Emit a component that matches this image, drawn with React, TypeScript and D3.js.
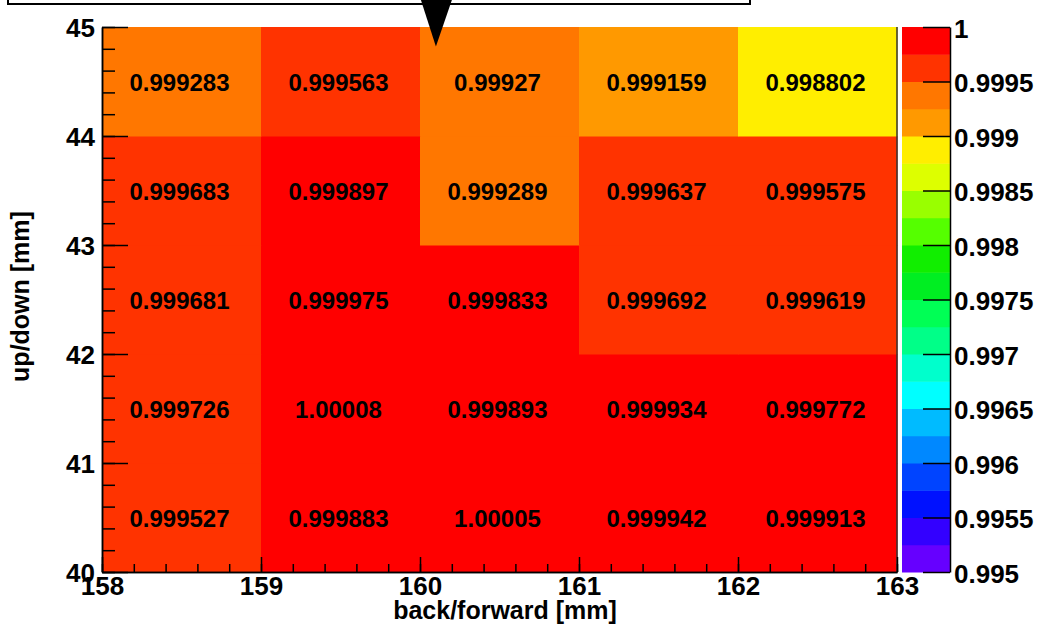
import { useRef, useEffect } from 'react';
import * as d3 from 'd3';

// bin edges
const xEdges = [158, 159, 160, 161, 162, 163];
const yEdges = [40, 41, 42, 43, 44, 45];

// cell contents, one array per up/down bin (left to right = back/forward bins)
const row40 = [0.999527, 0.999883, 1.00005, 0.999942, 0.999913];
const row41 = [0.999726, 1.00008, 0.999893, 0.999934, 0.999772];
const row42 = [0.999681, 0.999975, 0.999833, 0.999692, 0.999619];
const row43 = [0.999683, 0.999897, 0.999289, 0.999637, 0.999575];
const row44 = [0.999283, 0.999563, 0.99927, 0.999159, 0.998802];
const rows = [row40, row41, row42, row43, row44];

// colour palette, lowest level first
const palette = [
  '#6600ff', '#3300ff', '#0011ff', '#0044ff', '#0088ff',
  '#00bbff', '#00ffff', '#00ffcc', '#00ff88', '#00ff55',
  '#00ee22', '#11ee00', '#55ff00', '#99ff00', '#ddff00',
  '#ffee00', '#ff9900', '#ff7700', '#ff3300', '#ff0000',
];
const zRange = [0.995, 1];
const zTicks = [0.995, 0.9955, 0.996, 0.9965, 0.997, 0.9975, 0.998, 0.9985, 0.999, 0.9995, 1];

const xTitle = 'back/forward [mm]';
const yTitle = 'up/down [mm]';

// marker pointing into the plot (data coords of the tip)
const marker = { x: 160.1, y: 44.82 };

const FONT = '"Liberation Sans", Arial, Helvetica, sans-serif';

function App() {
  const svgRef = useRef(null);

  useEffect(() => {
    const svg = d3.select(svgRef.current);
    svg.selectAll('*').remove();

    const left = 102, right = 897, top = 27, bottom = 572;
    const barX0 = 902, barX1 = 950;

    const x = d3.scaleLinear().domain([158, 163]).range([left, right]);
    const y = d3.scaleLinear().domain([40, 45]).range([bottom, top]);
    const z = d3.scaleLinear().domain(zRange).range([bottom, top]);
    const color = d3.scaleQuantize().domain(zRange).range(palette);
    const fmt = d3.format('.6');
    const zfmt = d3.format('.6~g');

    // title box (mostly off the top of the picture)
    svg.append('rect')
      .attr('x', 8).attr('y', -40).attr('width', 742).attr('height', 44)
      .attr('fill', 'white').attr('stroke', 'black').attr('stroke-width', 2);

    // cells
    const cells = [];
    rows.forEach((row, j) => {
      row.forEach((v, i) => {
        cells.push({ x0: xEdges[i], x1: xEdges[i + 1], y0: yEdges[j], y1: yEdges[j + 1], v });
      });
    });

    const g = svg.append('g');
    g.selectAll('rect')
      .data(cells)
      .enter()
      .append('rect')
      .attr('x', (d) => x(d.x0))
      .attr('y', (d) => y(d.y1))
      .attr('width', (d) => x(d.x1) - x(d.x0) + 0.5)
      .attr('height', (d) => y(d.y0) - y(d.y1) + 0.5)
      .attr('fill', (d) => color(Math.min(d.v, zRange[1] - 1e-9)));

    g.selectAll('text')
      .data(cells)
      .enter()
      .append('text')
      .attr('x', (d) => (x(d.x0) + x(d.x1)) / 2 - 2)
      .attr('y', (d) => (y(d.y0) + y(d.y1)) / 2 + 9)
      .attr('text-anchor', 'middle')
      .style('font', `bold 24px ${FONT}`)
      .attr('fill', 'black')
      .text((d) => fmt(d.v));

    // frame
    svg.append('line')
      .attr('x1', right).attr('x2', right).attr('y1', top).attr('y2', bottom)
      .attr('stroke', '#333').attr('stroke-width', 1.5);

    // x axis: minor ticks, then major ticks with labels
    svg.append('g')
      .attr('transform', `translate(0, ${bottom})`)
      .call(d3.axisBottom(x).ticks(25).tickSizeInner(-8).tickSizeOuter(0).tickFormat(() => ''))
      .selectAll('line, path').attr('stroke', 'black').attr('stroke-width', 1.5);
    const xAxis = svg.append('g').attr('transform', `translate(0, ${bottom})`);
    xAxis.call(
      d3.axisBottom(x).tickValues(xEdges).tickSizeInner(-15).tickSizeOuter(0)
        .tickPadding(5).tickFormat(d3.format('d'))
    );
    xAxis.selectAll('text').style('font', `bold 26px ${FONT}`).attr('fill', 'black');
    xAxis.selectAll('line, path').attr('stroke', 'black').attr('stroke-width', 1.5);

    // y axis
    svg.append('g')
      .attr('transform', `translate(${left}, 0)`)
      .call(d3.axisLeft(y).ticks(25).tickSizeInner(-13).tickSizeOuter(0).tickFormat(() => ''))
      .selectAll('line, path').attr('stroke', 'black').attr('stroke-width', 1.5);
    const yAxis = svg.append('g').attr('transform', `translate(${left}, 0)`);
    yAxis.call(
      d3.axisLeft(y).tickValues(yEdges).tickSizeInner(-26).tickSizeOuter(0)
        .tickPadding(7).tickFormat(d3.format('d'))
    );
    yAxis.selectAll('text')
      .style('font', `bold 26px ${FONT}`).attr('fill', 'black')
      .attr('dy', '0.36em');
    yAxis.selectAll('line, path').attr('stroke', 'black').attr('stroke-width', 1.5);

    // axis titles
    svg.append('text')
      .attr('x', 505).attr('y', 619)
      .attr('text-anchor', 'middle')
      .style('font', `bold 25px ${FONT}`)
      .text(xTitle);
    svg.append('text')
      .attr('transform', `translate(29, ${(top + bottom) / 2 - 3}) rotate(-90)`)
      .attr('text-anchor', 'middle')
      .style('font', `bold 25px ${FONT}`)
      .text(yTitle);

    // colour bar
    const step = (zRange[1] - zRange[0]) / palette.length;
    const bar = svg.append('g');
    bar.selectAll('rect')
      .data(palette)
      .enter()
      .append('rect')
      .attr('x', barX0)
      .attr('y', (_, i) => z(zRange[0] + (i + 1) * step))
      .attr('width', barX1 - barX0)
      .attr('height', (_, i) => z(zRange[0] + i * step) - z(zRange[0] + (i + 1) * step) + 0.5)
      .attr('fill', (c) => c);

    const zAxis = svg.append('g').attr('transform', `translate(${barX1}, 0)`);
    zAxis.call(
      d3.axisRight(z).tickValues(zTicks).tickSizeInner(-27).tickSizeOuter(0)
        .tickPadding(4).tickFormat(zfmt)
    );
    zAxis.selectAll('text')
      .style('font', `bold 26px ${FONT}`).attr('fill', 'black')
      .attr('dy', '0.4em');
    zAxis.selectAll('line, path').attr('stroke', 'black').attr('stroke-width', 1.5);

    // marker triangle
    const tipX = x(marker.x), tipY = y(marker.y);
    svg.append('path')
      .attr('d', d3.line()([[tipX - 15, 0], [tipX + 16, 0], [tipX, tipY]]) + 'Z')
      .attr('fill', 'black');

    return () => {
      svg.selectAll('*').remove();
    };
  }, []);

  return (
    <svg
      ref={svgRef}
      width={1048}
      height={636}
      style={{ position: 'absolute', left: 0, top: 0, background: 'white' }}
    />
  );
}

export default App;
